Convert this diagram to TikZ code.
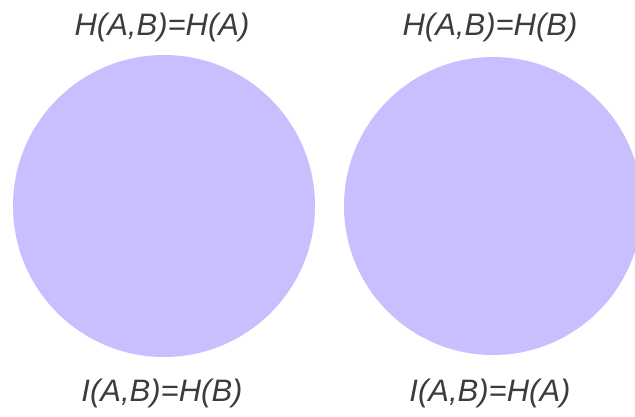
\documentclass[tikz,border=0pt]{standalone}
\usepackage{fontspec}
\setmainfont{Liberation Sans}
\definecolor{lav}{RGB}{200,191,255}
\definecolor{txt}{RGB}{60,60,60}
\begin{document}
\begin{tikzpicture}[x=1pt,y=-1pt,
  disc/.style={circle,fill=lav,draw=none,inner sep=0pt},
  lbl/.style={anchor=base,text=txt,inner sep=0pt,font=\fontsize{31}{31}\selectfont\itshape}]
\useasboundingbox[fill=white] (0,0) rectangle (635,416);
\node[disc,minimum size=302pt] (ca) at (164,206) {};
\node[disc,minimum size=298pt] (cb) at (493,206) {};
\node[lbl] (ta) at (162,35) {H(A,B)=H(A)};
\node[lbl] (tb) at (490,35) {H(A,B)=H(B)};
\node[lbl] (ba) at (162,401) {I(A,B)=H(B)};
\node[lbl] (bb) at (490,401) {I(A,B)=H(A)};
\end{tikzpicture}
\end{document}
